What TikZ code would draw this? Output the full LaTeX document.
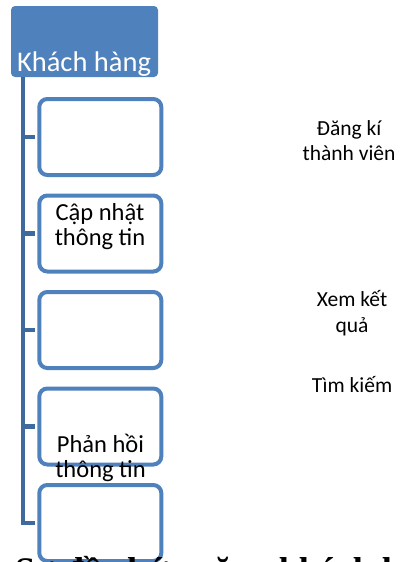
\documentclass[tikz,border=0pt]{standalone}
\usepackage{fontspec}
\setmainfont{Carlito}
\newfontfamily\tnr{Liberation Serif}
\definecolor{hdrblue}{HTML}{4F81BD}
\definecolor{lineblue}{HTML}{3F6A9E}
\begin{document}
\begin{tikzpicture}[x=1pt,y=-1pt,
  header/.style={draw=none,fill=hdrblue,rounded corners=4pt,minimum width=147pt,minimum height=71pt,inner sep=0pt},
  childbox/.style={draw=hdrblue,line width=4pt,fill=white,rounded corners=8pt,minimum width=122pt,minimum height=76pt,inner sep=0pt},
  conn/.style={draw=lineblue,line width=4.5pt},
  boxtext/.style={align=center,font=\fontsize{24.5}{25}\selectfont,anchor=base,inner sep=0pt},
  sidetext/.style={align=center,font=\fontsize{21.5}{25.5}\selectfont,anchor=base,inner sep=0pt}]
\useasboundingbox (0,0) rectangle (405,562);
\clip (0,0) rectangle (405,562);
% header
\node[header] (kh) at (84.5,41.5) {};
\node[text=white,font=\fontsize{28.5}{30}\selectfont,anchor=base,inner sep=0pt] (khtext) at (84,71) {Khách hàng};
% tree line
\coordinate (top) at (23,77);
\coordinate (bot) at (23,523);
% boxes
\node[childbox] (b1) at (100.3,137) {};
\node[childbox] (b2) at (100.3,233.5) {};
\node[childbox] (b3) at (100.3,330) {};
\node[childbox] (b4) at (100.3,426.5) {};
\node[childbox] (b5) at (100.3,523) {};
\draw[conn] (top) -- (bot) -- ([xshift=-2pt]b5.west);
\foreach \b in {b1,b2,b3,b4}{
  \draw[conn] (top |- \b.west) -- ([xshift=-2pt]\b.west);
}
% box texts (anchor=base is the last line's baseline)
\node[boxtext] (t2) at (100,245) {Cập nhật\\thông tin};
\node[boxtext] (t4) at (100.5,477) {Phản hồi\\thông tin};
% side texts
\node[sidetext] (s1) at (349,160.5) {Đăng kí\\thành viên};
\node[sidetext] (s2) at (352,332) {Xem kết\\quả};
\node[sidetext] (s3) at (352,392) {Tìm kiếm};
% caption (clipped)
\node[font=\tnr\bfseries\fontsize{36}{40}\selectfont,anchor=base west,inner sep=0pt] (cap) at (15,582) {Sơ đồ chức năng khách hàng};
\end{tikzpicture}
\end{document}
